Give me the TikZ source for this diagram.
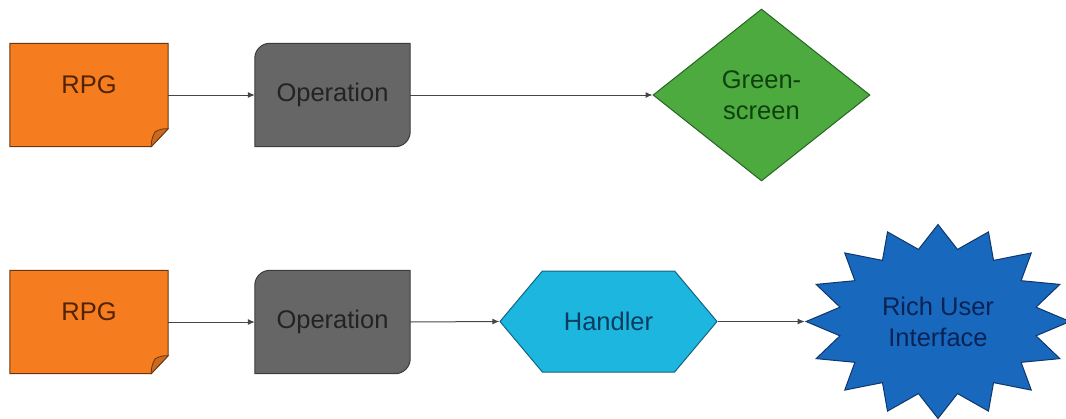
\documentclass[tikz,border=0pt]{standalone}
\usepackage{fontspec}
\setmainfont{Liberation Sans}
\usepackage{tikz}
\usetikzlibrary{arrows.meta,positioning,shapes.geometric,shapes.symbols,backgrounds}
\definecolor{notefill}{RGB}{245,125,32}
\definecolor{notedraw}{RGB}{105,55,15}
\definecolor{notetext}{RGB}{80,35,5}
\definecolor{flapfill}{RGB}{205,105,30}
\definecolor{opfill}{RGB}{102,102,102}
\definecolor{opdraw}{RGB}{60,60,60}
\definecolor{optext}{RGB}{35,35,35}
\definecolor{greenfill}{RGB}{76,170,62}
\definecolor{greendraw}{RGB}{40,100,35}
\definecolor{greentext}{RGB}{15,65,15}
\definecolor{handfill}{RGB}{28,182,222}
\definecolor{handdraw}{RGB}{20,100,130}
\definecolor{handtext}{RGB}{10,60,95}
\definecolor{burstfill}{RGB}{24,104,190}
\definecolor{burstdraw}{RGB}{15,55,105}
\definecolor{bursttext}{RGB}{10,35,85}
\definecolor{linkcol}{RGB}{70,70,70}
\tikzset{
  note/.style={rectangle,minimum width=158pt,minimum height=103pt,inner sep=0pt,text depth=20pt,text=notetext},
  operation/.style={rectangle,minimum width=155pt,minimum height=103pt,inner sep=0pt,text=optext},
  screen/.style={diamond,draw=greendraw,fill=greenfill,minimum width=217pt,minimum height=172pt,aspect=1.26,inner sep=0pt,text=greentext,align=center,line width=1pt},
  handler/.style={signal,signal to=east and west,signal pointer angle=100,draw=handdraw,fill=handfill,minimum width=217pt,minimum height=101pt,inner sep=0pt,text=handtext,line width=1pt},
  burst/.style={star,star points=16,star point ratio=1.32,minimum size=194pt,inner sep=0pt,draw=burstdraw,fill=burstfill,xscale=1.36,transform shape,line width=1pt},
  bursttitle/.style={align=center,text=bursttext},
  link/.style={->,draw=linkcol,line width=1pt}
}

\begin{document}
\begin{tikzpicture}[x=1pt,y=1pt,>={Latex[length=7pt,width=6pt]},
  font=\fontsize{25.5}{31}\selectfont]
  \useasboundingbox (0,0) rectangle (1066,-418);
  \node[note]      (rpga) at (89,-95) {RPG};
  \node[operation] (opa)  at (332.5,-95) {Operation};
  \node[screen]    (gs)   at (761.5,-95) {Green-\\screen};
  \node[note]      (rpgb) at (89,-322) {RPG};
  \node[operation] (opb)  at (332.5,-322) {Operation};
  \node[handler]   (hand) at (608.5,-321.5) {Handler};
  \node[burst]     (rui)  at (938,-321.5) {};
  \node[bursttitle] (ruitext) at (rui.center) {Rich User\\Interface};
  \draw[link] (rpga.east) -- (opa.west);
  \draw[link] (opa.east) -- (gs.west);
  \draw[link] (rpgb.east) -- (opb.west);
  \draw[link] (opb.east) -- (hand.west);
  \draw[link] (hand.east) -- (rui.west);
  \begin{scope}[on background layer]
    \foreach \n in {rpga,rpgb}{
      \draw[draw=notedraw,fill=notefill,line width=1pt] (\n.north west) -- (\n.north east)
        -- ([yshift=18pt]\n.south east) -- ([xshift=-17pt]\n.south east) -- (\n.south west) -- cycle;
      \draw[draw=notedraw,fill=flapfill,line width=0.8pt] ([xshift=-17pt]\n.south east)
        to[bend left=15] ([xshift=-13pt,yshift=15pt]\n.south east)
        to[bend left=15] ([yshift=18pt]\n.south east) -- cycle;
    }
    \foreach \n in {opa,opb}{
      \draw[draw=opdraw,fill=opfill,line width=1pt] (\n.south west) -- ([yshift=-15pt]\n.north west)
        arc[start angle=180,end angle=90,radius=15pt] -- (\n.north east)
        -- ([yshift=15pt]\n.south east) arc[start angle=0,end angle=-90,radius=15pt] -- cycle;
    }
  \end{scope}
\end{tikzpicture}
\end{document}
